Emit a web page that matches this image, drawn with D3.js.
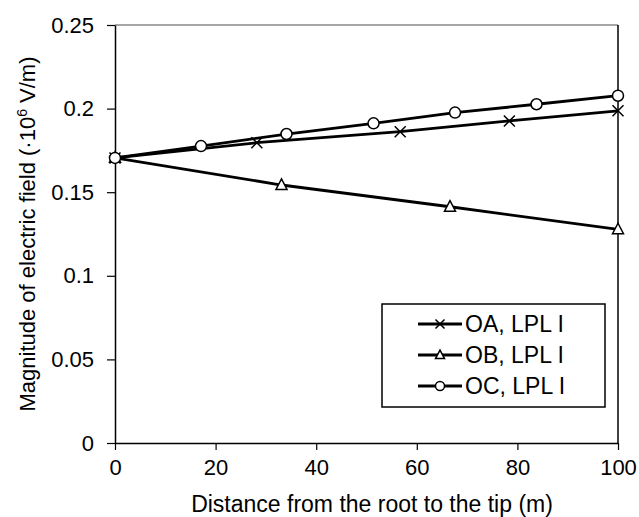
<!DOCTYPE html>
<html>
<head>
<meta charset="utf-8">
<script src="https://cdn.jsdelivr.net/npm/d3@7"></script>
<style>
  body { margin: 0; background: #fff; }
  svg { display: block; font-family: "Liberation Sans", Arial, sans-serif; }
</style>
</head>
<body>
<div id="chart"></div>
<script>
// distances along the rod (m) and field magnitude (x10^6 V/m)
const oaX = [0, 28.2, 56.7, 78.4, 100];
const oaY = [0.1705, 0.1796, 0.1862, 0.1926, 0.1987];
const obX = [0, 33.1, 66.6, 100];
const obY = [0.1705, 0.1543, 0.1413, 0.1278];
const ocX = [0, 17.1, 34.1, 51.4, 67.6, 83.8, 100];
const ocY = [0.1705, 0.1776, 0.1848, 0.1912, 0.1976, 0.2026, 0.2077];

const seriesNames = ["OA, LPL I", "OB, LPL I", "OC, LPL I"];
const seriesMarkers = ["cross", "triangle", "circle"];
const xTicks = [0, 20, 40, 60, 80, 100];
const yTicks = [0, 0.05, 0.1, 0.15, 0.2, 0.25];

const width = 639, height = 517;
const margin = {top: 25, right: 21, bottom: 74, left: 115};
const innerW = width - margin.left - margin.right;
const innerH = height - margin.top - margin.bottom;

const svg = d3.select("#chart").append("svg")
  .attr("width", width).attr("height", height);
const g = svg.append("g").attr("transform", `translate(${margin.left},${margin.top})`);

const x = d3.scaleLinear().domain([0, 100]).range([0, innerW]);
const y = d3.scaleLinear().domain([0, 0.25]).range([innerH, 0]);

// frame: top grey, right black
g.append("line").attr("x1", 0).attr("x2", innerW).attr("y1", 0).attr("y2", 0)
  .attr("stroke", "#888").attr("stroke-width", 1.5);
g.append("line").attr("x1", innerW).attr("x2", innerW).attr("y1", 0).attr("y2", innerH)
  .attr("stroke", "#000").attr("stroke-width", 1.5);

const xAxis = g.append("g").attr("transform", `translate(0,${innerH})`)
  .call(d3.axisBottom(x).tickValues(xTicks).tickSize(7).tickPadding(9).tickSizeOuter(0));
const yAxis = g.append("g")
  .call(d3.axisLeft(y).tickValues(yTicks).tickFormat(d => String(+d.toFixed(2))).tickSize(8).tickPadding(13).tickSizeOuter(0));

[xAxis, yAxis].forEach(a => {
  a.selectAll("path").attr("stroke", "#000").attr("stroke-width", 1.5);
  a.selectAll(".tick line").attr("stroke", "#000").attr("stroke-width", 1.2);
  a.selectAll(".tick text").attr("fill", "#000").style("font-size", "22px")
    .style("font-family", "Liberation Sans, Arial, sans-serif");
});

// axis titles
svg.append("text")
  .attr("x", 372).attr("y", 512)
  .attr("text-anchor", "middle").style("font-size", "23px")
  .text("Distance from the root to the tip (m)");

const yt = svg.append("text")
  .attr("transform", `translate(35,${margin.top + innerH / 2}) rotate(-90)`)
  .attr("text-anchor", "middle").style("font-size", "22px");
yt.append("tspan").text("Magnitude of electric field (\u00b710");
yt.append("tspan").attr("dy", -8).style("font-size", "14px").text("6");
yt.append("tspan").attr("dy", 8).text(" V/m)");

const series = [
  {name: seriesNames[0], marker: seriesMarkers[0], data: oaX.map((d, i) => [d, oaY[i]])},
  {name: seriesNames[1], marker: seriesMarkers[1], data: obX.map((d, i) => [d, obY[i]])},
  {name: seriesNames[2], marker: seriesMarkers[2], data: ocX.map((d, i) => [d, ocY[i]])}
];

const line = d3.line().x(d => x(d[0])).y(d => y(d[1]));

function drawMarker(sel, type, cx, cy, s) {
  if (type === "cross") {
    sel.append("path")
      .attr("d", `M${cx - s},${cy - s}L${cx + s},${cy + s}M${cx - s},${cy + s}L${cx + s},${cy - s}`)
      .attr("stroke", "#000").attr("stroke-width", 1.5).attr("fill", "none");
  } else if (type === "triangle") {
    sel.append("path")
      .attr("d", `M${cx},${cy - s * 1.1}L${cx + s},${cy + s * 0.8}L${cx - s},${cy + s * 0.8}Z`)
      .attr("stroke", "#000").attr("stroke-width", 1.5).attr("fill", "#fff");
  } else {
    sel.append("circle").attr("cx", cx).attr("cy", cy).attr("r", s)
      .attr("stroke", "#000").attr("stroke-width", 1.5).attr("fill", "#fff");
  }
}

series.forEach(s => {
  g.append("path").datum(s.data).attr("d", line)
    .attr("fill", "none").attr("stroke", "#000").attr("stroke-width", 2.8);
});
series.forEach(s => {
  const mg = g.append("g");
  s.data.forEach(d => drawMarker(mg, s.marker, x(d[0]), y(d[1]), 5.5));
});

// legend
const lg = svg.append("g").attr("transform", "translate(382,304)");
lg.append("rect").attr("width", 223).attr("height", 103)
  .attr("fill", "#fff").attr("stroke", "#000").attr("stroke-width", 1.5);
series.forEach((s, i) => {
  const ly = 20 + i * 31;
  lg.append("line").attr("x1", 36).attr("x2", 80).attr("y1", ly).attr("y2", ly)
    .attr("stroke", "#000").attr("stroke-width", 2.8);
  drawMarker(lg, s.marker, 58, ly, 4.5);
  lg.append("text").attr("x", 83).attr("y", ly + 8).style("font-size", "23px").text(s.name);
});
</script>
</body>
</html>
